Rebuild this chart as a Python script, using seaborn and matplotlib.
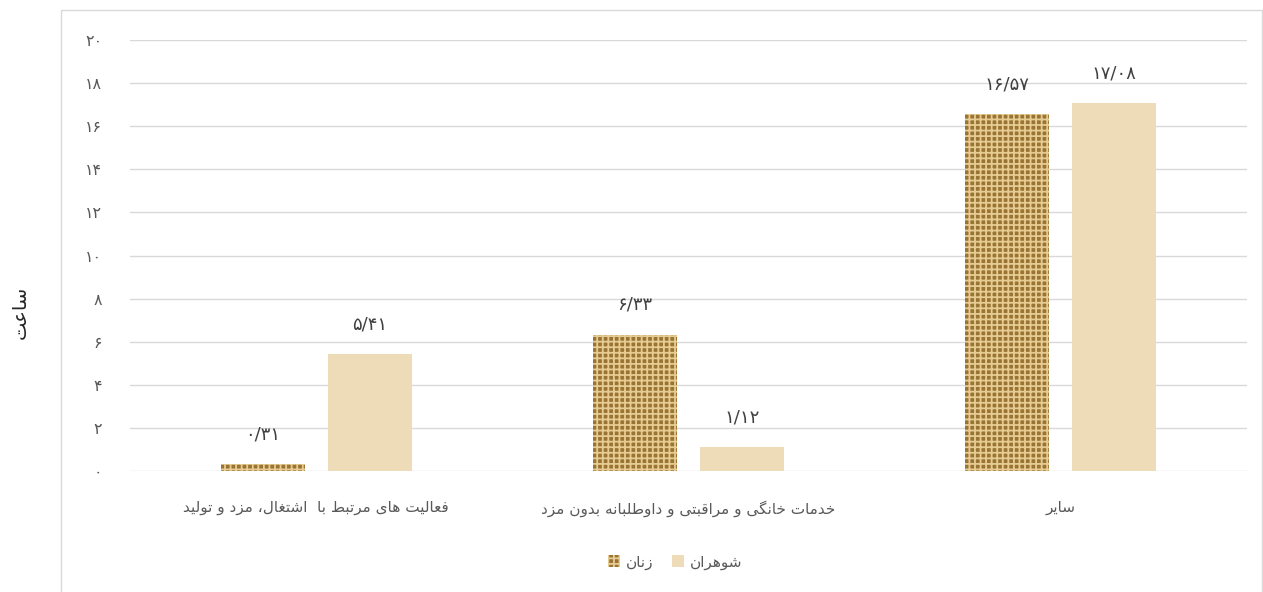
import pandas as pd
import seaborn as sns
import matplotlib.pyplot as plt
from matplotlib.patches import Patch, Rectangle

# Data (hours)
categories = [
    "فعالیت های مرتبط با  اشتغال، مزد و تولید",
    "خدمات خانگی و مراقبتی و داوطلبانه بدون مزد",
    "سایر",
]
women = [0.31, 6.33, 16.57]
husbands = [5.41, 1.12, 17.08]
series_names = ["زنان", "شوهران"]
y_label = "ساعت"
y_ticks = list(range(0, 21, 2))

# Simple Arabic/Persian shaping (matplotlib has no bidi / joining support)
FORMS = {
    'ا': ('\uFE8D', '\uFE8E', None, None),
    'ب': ('\uFE8F', '\uFE90', '\uFE91', '\uFE92'),
    'ت': ('\uFE95', '\uFE96', '\uFE97', '\uFE98'),
    'خ': ('\uFEA5', '\uFEA6', '\uFEA7', '\uFEA8'),
    'د': ('\uFEA9', '\uFEAA', None, None),
    'ر': ('\uFEAD', '\uFEAE', None, None),
    'ز': ('\uFEAF', '\uFEB0', None, None),
    'س': ('\uFEB1', '\uFEB2', '\uFEB3', '\uFEB4'),
    'ش': ('\uFEB5', '\uFEB6', '\uFEB7', '\uFEB8'),
    'ط': ('\uFEC1', '\uFEC2', '\uFEC3', '\uFEC4'),
    'ع': ('\uFEC9', '\uFECA', '\uFECB', '\uFECC'),
    'غ': ('\uFECD', '\uFECE', '\uFECF', '\uFED0'),
    'ف': ('\uFED1', '\uFED2', '\uFED3', '\uFED4'),
    'ق': ('\uFED5', '\uFED6', '\uFED7', '\uFED8'),
    'ل': ('\uFEDD', '\uFEDE', '\uFEDF', '\uFEE0'),
    'م': ('\uFEE1', '\uFEE2', '\uFEE3', '\uFEE4'),
    'ن': ('\uFEE5', '\uFEE6', '\uFEE7', '\uFEE8'),
    'ه': ('\uFEE9', '\uFEEA', '\uFEEB', '\uFEEC'),
    'و': ('\uFEED', '\uFEEE', None, None),
    'ی': ('\uFBFC', '\uFBFD', '\uFBFE', '\uFBFF'),
    'گ': ('\uFB92', '\uFB93', '\uFB94', '\uFB95'),
}


def dual(c):
    return c in FORMS and FORMS[c][2] is not None


def shape(text):
    out = []
    for i, c in enumerate(text):
        if c not in FORMS:
            out.append(c)
            continue
        prev = text[i - 1] if i > 0 else ''
        nxt = text[i + 1] if i + 1 < len(text) else ''
        to_prev = dual(prev)
        to_next = dual(c) and nxt in FORMS
        iso, fin, ini, med = FORMS[c]
        if to_prev and to_next:
            out.append(med)
        elif to_prev:
            out.append(fin)
        elif to_next:
            out.append(ini)
        else:
            out.append(iso)
    return ''.join(reversed(out))


FA_DIGITS = str.maketrans("0123456789.", "۰۱۲۳۴۵۶۷۸۹/")


def fa_num(s):
    return str(s).translate(FA_DIGITS)


df = pd.DataFrame({
    "category": categories * 2,
    "hours": women + husbands,
    "group": [series_names[0]] * 3 + [series_names[1]] * 3,
})

sns.set_style("white")
plt.rcParams['font.family'] = ['DejaVu Sans']
plt.rcParams['hatch.linewidth'] = 1.3

women_face = "#9a7434"
women_hatch = "#e6cc92"
husband_face = "#eddcb7"

fig = plt.figure(figsize=(12.63, 5.92), dpi=100)
ax = fig.add_axes([0.1029, 0.2044, 0.8844, 0.728])

sns.barplot(data=df, x="category", y="hours", hue="group", order=categories,
            hue_order=series_names, palette=[women_face, husband_face],
            width=0.575, gap=0.214, legend=False, ax=ax, saturation=1)

for bar in ax.containers[0]:
    bar.set_hatch("+++")
    bar.set_edgecolor(women_hatch)
    bar.set_linewidth(0)
for bar in ax.containers[1]:
    bar.set_linewidth(0)

for cont, vals in zip(ax.containers, [women, husbands]):
    ax.bar_label(cont, labels=[fa_num(f"{v:.2f}") for v in vals],
                 padding=15, fontsize=13, color="#404040")

ax.set_ylim(0, 20)
ax.set_yticks(y_ticks)
ax.set_yticklabels([fa_num(t) for t in y_ticks], color="#595959", fontsize=11.5)
ax.set_xticks(range(len(categories)))
ax.set_xticklabels([shape(c) for c in categories], color="#595959", fontsize=11)
ax.tick_params(axis="both", length=0)
ax.tick_params(axis="y", pad=20)
ax.tick_params(axis="x", pad=21)
ax.yaxis.grid(True, color="#d9d9d9", linewidth=1)
ax.set_axisbelow(True)
ax.set_xlabel("")
ax.set_ylabel("")
sns.despine(ax=ax, left=True, bottom=True)

fig.text(20 / 1263, 1 - 312 / 592, shape(y_label), rotation=90, ha="center",
         va="center", fontsize=14, color="#262626")

# chart frame
fig.add_artist(Rectangle((61 / 1263, -0.02), 1201 / 1263, 1.02 - 10 / 592,
                         transform=fig.transFigure, fill=False,
                         edgecolor="#d9d9d9", linewidth=1))

handles = [
    Patch(facecolor=women_face, edgecolor=women_hatch, hatch="+++", linewidth=0),
    Patch(facecolor=husband_face, linewidth=0),
]
fig.legend(handles, [shape(s) for s in series_names], loc="center",
           bbox_to_anchor=(675 / 1263, 1 - 562 / 592), ncol=2, frameon=False,
           handlelength=0.8, handleheight=0.8, handletextpad=0.4,
           columnspacing=1.2, fontsize=11, labelcolor="#595959")

fig.savefig("out.png", dpi=100)
